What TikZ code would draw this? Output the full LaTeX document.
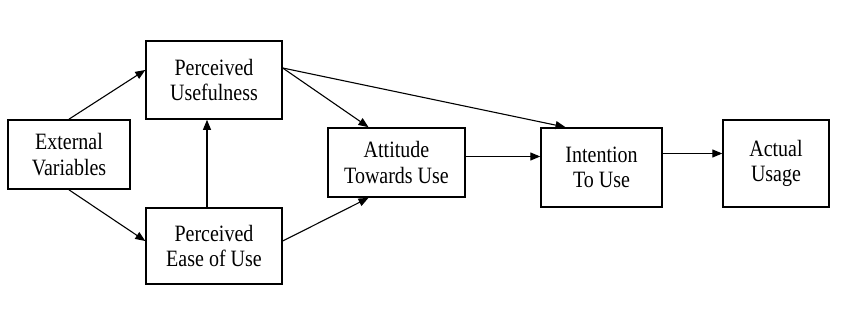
\documentclass[tikz,border=0pt]{standalone}
\usepackage{fontspec}
\setmainfont{Liberation Serif}
\usetikzlibrary{arrows.meta}
\tikzset{
  cutie/.style    = {draw, line width=1.4pt, align=center, inner sep=2pt,
                     transform shape, yscale=1.17,
                     font=\fontsize{20}{22}\selectfont},
  legatura/.style = {-{Triangle[length=10pt, width=8pt]}, line width=1.1pt}
}
\begin{document}
\begin{tikzpicture}[x=1pt, y=1pt]
    \useasboundingbox (0,0) rectangle (850,312);

    \node[cutie, minimum width=122pt, minimum height=59pt] (externe) at (69,157.5) {External\\ Variables};
    \node[cutie, minimum width=136pt, minimum height=66.7pt] (utilitate) at (214,232) {Perceived\\ Usefulness};
    \node[cutie, minimum width=136pt, minimum height=65pt] (usurinta) at (214,66) {Perceived\\ Ease of Use};
    \node[cutie, minimum width=137pt, minimum height=59pt] (atitudine) at (396.5,149.5) {Attitude\\ Towards Use};
    \node[cutie, minimum width=121pt, minimum height=67.5pt] (intentie) at (601.5,144.5) {Intention\\ To Use};
    \node[cutie, minimum width=106pt, minimum height=74.4pt] (utilizare) at (776,148.5) {Actual\\ Usage};

    \coordinate (iesirePU) at ([yshift=12pt]utilitate.east);
    \coordinate (iesireI) at ([yshift=14pt]intentie.east);

    \draw[legatura] (externe.north) -- ([yshift=10pt]utilitate.west);
    \draw[legatura] (externe.south) -- ([yshift=5pt]usurinta.west);
    \draw[legatura] ([xshift=-7pt]usurinta.north) -- ([xshift=-7pt]usurinta.north |- utilitate.south);
    \draw[legatura] (iesirePU) -- ([xshift=-28pt]atitudine.north);
    \draw[legatura] (iesirePU) -- ([xshift=-36pt]intentie.north);
    \draw[legatura] ([yshift=5pt]usurinta.east) -- ([xshift=-28pt]atitudine.south);
    \draw[legatura] ([yshift=6pt]atitudine.east) -- ([yshift=6pt]atitudine.east -| intentie.west);
    \draw[legatura] (iesireI) -- (iesireI -| utilizare.west);
\end{tikzpicture}
\end{document}
